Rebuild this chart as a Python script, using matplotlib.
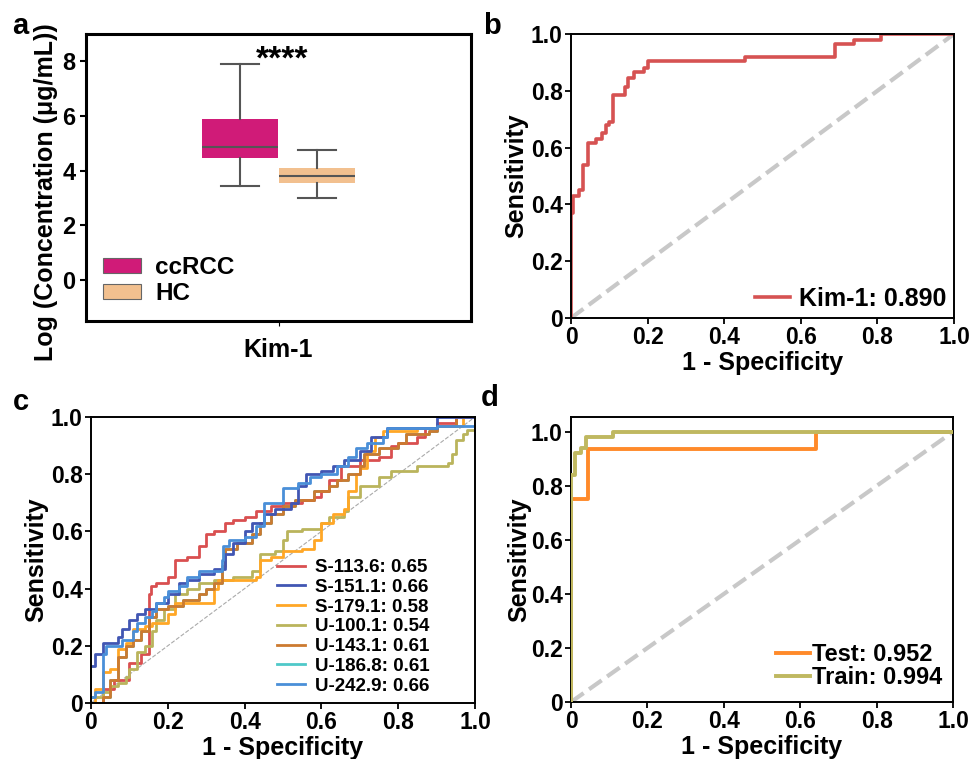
import numpy as np
import matplotlib
matplotlib.use("Agg")
import matplotlib.pyplot as plt
from matplotlib.patches import Patch
from matplotlib.ticker import FuncFormatter

plt.rcParams['font.family'] = ['Liberation Sans', 'DejaVu Sans']
plt.rcParams['font.weight'] = 'bold'
plt.rcParams['axes.labelweight'] = 'bold'

# panel a: box statistics (log concentration)
groups = ['ccRCC', 'HC']
box_q1 = [4.45, 3.55]
box_med = [4.85, 3.8]
box_q3 = [5.9, 4.1]
box_lo = [3.45, 3.0]
box_hi = [7.9, 4.75]
box_colors = ['#d01b78', '#f2c08f']
marker_name = 'Kim-1'

# panel b: Kim-1 ROC (jump points)
kim_fpr = [0, 0, 0.005, 0.02, 0.03, 0.045, 0.065, 0.08, 0.09, 0.10, 0.11, 0.14, 0.15,
           0.165, 0.19, 0.20, 0.455, 0.69, 0.74, 0.81, 1.0]
kim_tpr = [0, 0.37, 0.43, 0.45, 0.54, 0.615, 0.63, 0.65, 0.68, 0.69, 0.785, 0.815, 0.845,
           0.865, 0.88, 0.905, 0.92, 0.965, 0.98, 1.0, 1.0]
kim_auc = 0.890

# panel c: single-feature ROC curves
s113_fpr = [0, 0.03, 0.06, 0.10, 0.13, 0.15, 0.155, 0.17, 0.20, 0.22, 0.25, 0.28, 0.30, 0.32,
            0.35, 0.37, 0.40, 0.43, 0.47, 0.50, 0.55, 0.58, 0.60, 0.62, 0.65, 0.70, 0.75,
            0.78, 0.80, 0.85, 0.87, 0.90, 0.95, 1.0]
s113_tpr = [0, 0.05, 0.08, 0.14, 0.17, 0.38, 0.41, 0.42, 0.44, 0.50, 0.51, 0.55, 0.59, 0.60,
            0.63, 0.64, 0.65, 0.67, 0.69, 0.70, 0.71, 0.72, 0.74, 0.78, 0.83, 0.85, 0.86,
            0.90, 0.91, 0.93, 0.96, 0.98, 1.0, 1.0]
s151_fpr = [0, 0.01, 0.03, 0.07, 0.08, 0.10, 0.12, 0.14, 0.17, 0.20, 0.23, 0.25, 0.28, 0.32,
            0.35, 0.37, 0.40, 0.42, 0.45, 0.48, 0.52, 0.54, 0.56, 0.60, 0.63, 0.66, 0.70,
            0.73, 0.77, 0.90, 1.0]
s151_tpr = [0.13, 0.17, 0.21, 0.23, 0.26, 0.29, 0.31, 0.33, 0.35, 0.38, 0.42, 0.43, 0.45, 0.47,
            0.52, 0.56, 0.60, 0.63, 0.66, 0.68, 0.70, 0.76, 0.80, 0.81, 0.83, 0.85, 0.88,
            0.93, 0.96, 1.0, 1.0]
s179_fpr = [0, 0.01, 0.03, 0.05, 0.07, 0.09, 0.11, 0.14, 0.16, 0.20, 0.22, 0.32, 0.33,
            0.43, 0.44, 0.47, 0.50, 0.55, 0.58, 0.60, 0.63, 0.66, 0.67, 0.69, 0.70, 0.72,
            0.74, 0.76, 0.85, 0.90, 0.97, 1.0]
s179_tpr = [0, 0.05, 0.11, 0.12, 0.19, 0.21, 0.26, 0.27, 0.28, 0.31, 0.35, 0.40, 0.43,
            0.44, 0.50, 0.51, 0.53, 0.54, 0.57, 0.63, 0.66, 0.68, 0.74, 0.80, 0.82, 0.88,
            0.93, 0.95, 0.96, 0.97, 1.0, 1.0]
u100_fpr = [0, 0.03, 0.05, 0.07, 0.09, 0.10, 0.12, 0.14, 0.16, 0.17, 0.19, 0.22, 0.25, 0.28,
            0.32, 0.37, 0.42, 0.44, 0.48, 0.50, 0.51, 0.55, 0.60, 0.62, 0.66, 0.67, 0.70,
            0.75, 0.78, 0.85, 0.93, 0.94, 0.95, 0.97, 0.98, 1.0]
u100_tpr = [0.02, 0.04, 0.06, 0.07, 0.09, 0.12, 0.18, 0.20, 0.25, 0.29, 0.33, 0.38, 0.40, 0.42,
            0.43, 0.44, 0.46, 0.52, 0.53, 0.57, 0.60, 0.61, 0.63, 0.65, 0.67, 0.72, 0.76,
            0.79, 0.81, 0.83, 0.84, 0.87, 0.92, 0.94, 0.955, 0.96]
u143_fpr = [0, 0.02, 0.03, 0.05, 0.07, 0.09, 0.11, 0.13, 0.15, 0.17, 0.20, 0.24, 0.28, 0.30,
            0.32, 0.34, 0.35, 0.38, 0.42, 0.44, 0.47, 0.50, 0.53, 0.58, 0.62, 0.64, 0.67,
            0.70, 0.71, 0.75, 0.80, 0.82, 0.88, 0.90, 0.95, 1.0]
u143_tpr = [0, 0.0, 0.02, 0.08, 0.16, 0.20, 0.22, 0.25, 0.30, 0.33, 0.34, 0.36, 0.38, 0.40,
            0.42, 0.48, 0.54, 0.56, 0.59, 0.63, 0.66, 0.69, 0.71, 0.74, 0.76, 0.78, 0.80,
            0.83, 0.87, 0.89, 0.91, 0.94, 0.95, 0.97, 1.0, 1.0]
# U-186.8 lies under U-143.1 in the figure
u186_fpr = list(u143_fpr)
u186_tpr = list(u143_tpr)
u242_fpr = [0, 0.01, 0.03, 0.04, 0.08, 0.11, 0.12, 0.14, 0.16, 0.17, 0.19, 0.20, 0.23, 0.25,
            0.28, 0.34, 0.345, 0.36, 0.40, 0.43, 0.45, 0.50, 0.54, 0.57, 0.60, 0.64, 0.67,
            0.69, 0.72, 0.76, 0.77, 0.90, 1.0]
u242_tpr = [0.02, 0.04, 0.17, 0.20, 0.22, 0.25, 0.28, 0.30, 0.32, 0.35, 0.37, 0.39, 0.41, 0.44,
            0.46, 0.50, 0.55, 0.57, 0.58, 0.62, 0.70, 0.75, 0.77, 0.79, 0.80, 0.83, 0.86,
            0.89, 0.91, 0.93, 0.96, 0.97, 0.98]
feat_names = ['S-113.6', 'S-151.1', 'S-179.1', 'U-100.1', 'U-143.1', 'U-186.8', 'U-242.9']
feat_auc = [0.65, 0.66, 0.58, 0.54, 0.61, 0.61, 0.66]
feat_fpr = [s113_fpr, s151_fpr, s179_fpr, u100_fpr, u143_fpr, u186_fpr, u242_fpr]
feat_tpr = [s113_tpr, s151_tpr, s179_tpr, u100_tpr, u143_tpr, u186_tpr, u242_tpr]
feat_colors = ['#d94f50', '#4156b3', '#ffa726', '#bab45c', '#cc7a30', '#4fc9c9', '#4a8fd8']

# panel d: model ROC
test_fpr = [0, 0, 0.045, 0.64, 1.0]
test_tpr = [0, 0.75, 0.935, 1.0, 1.0]
train_fpr = [0, 0, 0.01, 0.025, 0.04, 0.11, 1.0]
train_tpr = [0, 0.84, 0.92, 0.94, 0.98, 1.0, 1.0]
test_auc = 0.952
train_auc = 0.994

fig = plt.figure(figsize=(9.7, 7.59), dpi=100)
ax_a = fig.add_axes([0.0887, 0.5771, 0.3969, 0.3781])
ax_b = fig.add_axes([0.5887, 0.5810, 0.3948, 0.3742])
ax_c = fig.add_axes([0.0938, 0.0738, 0.3959, 0.3768])
ax_d = fig.add_axes([0.5887, 0.0751, 0.3938, 0.3755])

tick_fs = 16.5
label_fs = 18
roc_fmt = FuncFormatter(lambda v, p: '0' if abs(v) < 1e-9 else '%.1f' % v)

# ---- a: boxplot
stats = []
for i in range(len(groups)):
    stats.append(dict(med=box_med[i], q1=box_q1[i], q3=box_q3[i],
                      whislo=box_lo[i], whishi=box_hi[i], fliers=[], label=groups[i]))
bp = ax_a.bxp(stats, positions=[-0.2, 0.2], widths=0.39, patch_artist=True,
              showfliers=False, capwidths=0.2,
              medianprops=dict(color='#555555', lw=1.5),
              whiskerprops=dict(color='#555555', lw=1.5),
              capprops=dict(color='#555555', lw=1.5),
              boxprops=dict(lw=0))
for patch, col in zip(bp['boxes'], box_colors):
    patch.set_facecolor(col)
    patch.set_edgecolor(col)
ax_a.set_xlim(-1, 1)
ax_a.set_ylim(-1.5, 9)
ax_a.set_yticks([0, 2, 4, 6, 8])
ax_a.set_xticks([0])
ax_a.set_xticklabels([marker_name], fontsize=label_fs, fontweight='bold')
ax_a.tick_params(axis='x', pad=9)
ax_a.tick_params(axis='y', labelsize=tick_fs + 0.5, length=4, width=1.5)
ax_a.set_ylabel('Log (Concentration (μg/mL))', fontsize=label_fs)
ax_a.yaxis.set_label_coords(-0.072, 0.45)
for s in ax_a.spines.values():
    s.set_linewidth(2.2)
ax_a.text(0.02, 7.75, '****', ha='center', va='baseline', fontsize=24, fontweight='bold')
handles = [Patch(facecolor=c, edgecolor='#666666', lw=0.8) for c in box_colors]
ax_a.legend(handles, groups, loc='lower left', frameon=False, fontsize=17.5,
            handlelength=1.57, handleheight=0.58, handletextpad=0.6, labelspacing=0.15,
            bbox_to_anchor=(-0.014, -0.022))

# ---- b: Kim-1 ROC
ax_b.plot([0, 1], [0, 1], ls='--', color='#c8c8c8', lw=3)
ax_b.plot(kim_fpr, kim_tpr, drawstyle='steps-post', color='#d65252', lw=2.6,
          label='Kim-1: %.3f' % kim_auc)
ax_b.set_xlim(0, 1)
ax_b.set_ylim(0, 1)
ax_b.legend(loc='lower right', frameon=False, fontsize=18, handlelength=1.4,
            handletextpad=0.35, borderaxespad=0.1, borderpad=0.2)
ax_b.set_ylabel('Sensitivity', fontsize=label_fs, labelpad=2)
ax_b.set_xlabel('1 - Specificity', fontsize=label_fs, labelpad=1)

# ---- c: feature ROCs
ax_c.plot([0, 1], [0, 1], ls='--', color='#aaaaaa', lw=0.8)
order = [5, 0, 3, 2, 4, 1, 6]
lines = {}
for i in order:
    ln, = ax_c.plot(feat_fpr[i], feat_tpr[i], drawstyle='steps-post', color=feat_colors[i],
                    lw=2.0, label='%s: %.2f' % (feat_names[i], feat_auc[i]))
    lines[i] = ln
ax_c.set_xlim(0, 1)
ax_c.set_ylim(0, 1)
ax_c.legend([lines[i] for i in range(7)], [lines[i].get_label() for i in range(7)],
            loc='lower right', frameon=False, fontsize=13.5, handlelength=1.5,
            handletextpad=0.5, labelspacing=0.14, borderaxespad=0.2,
            bbox_to_anchor=(0.91, -0.01))
ax_c.set_ylabel('Sensitivity', fontsize=label_fs, labelpad=2)
ax_c.set_xlabel('1 - Specificity', fontsize=label_fs, labelpad=1)

# ---- d: model ROC
ax_d.plot([0, 1], [0, 1], ls='--', color='#c8c8c8', lw=3)
ax_d.plot(train_fpr, train_tpr, drawstyle='steps-post', color='#bfb860', lw=2.8,
          label='Train: %.3f' % train_auc, zorder=3)
ax_d.plot(test_fpr, test_tpr, drawstyle='steps-post', color='#ff8a2a', lw=2.8,
          label='Test: %.3f' % test_auc, zorder=2)
ax_d.set_xlim(0, 1)
ax_d.set_ylim(0, 1.055)
h, l = ax_d.get_legend_handles_labels()
ax_d.legend(h[::-1], l[::-1], loc='lower right', frameon=False, fontsize=17,
            handlelength=1.4, handletextpad=0.1, labelspacing=0.0,
            borderaxespad=0.1, borderpad=0.2, bbox_to_anchor=(0.99, 0.02))
ax_d.set_ylabel('Sensitivity', fontsize=label_fs, labelpad=0)
ax_d.set_xlabel('1 - Specificity', fontsize=label_fs, labelpad=1)

for ax in (ax_b, ax_c, ax_d):
    ax.set_xticks([0, 0.2, 0.4, 0.6, 0.8, 1.0])
    ax.set_yticks([0, 0.2, 0.4, 0.6, 0.8, 1.0])
    ax.xaxis.set_major_formatter(roc_fmt)
    ax.yaxis.set_major_formatter(roc_fmt)
    ax.tick_params(labelsize=tick_fs, length=4, width=1.3, pad=2)
    for s in ax.spines.values():
        s.set_linewidth(1.4)

for lab, x, y in [('a', 0.013, 0.966), ('b', 0.498, 0.966), ('c', 0.013, 0.471), ('d', 0.496, 0.475)]:
    fig.text(x, y, lab, fontsize=21, fontweight='bold', ha='left', va='center')

fig.savefig('out.png', dpi=100)
